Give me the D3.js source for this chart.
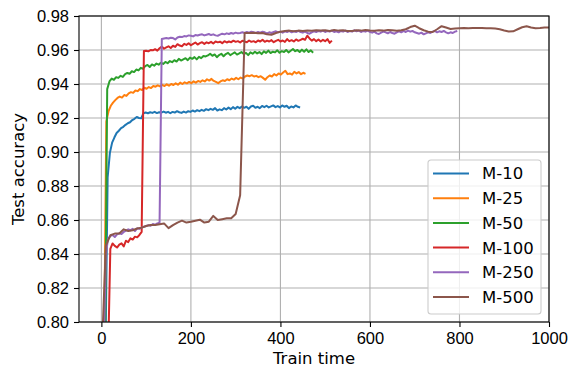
<!DOCTYPE html>
<html>
<head>
<meta charset="utf-8">
<script src="https://cdn.jsdelivr.net/npm/d3@7"></script>
<style>
  body { margin: 0; background: #fff; }
  svg { font-family: "DejaVu Sans", sans-serif; }
  .grid line { stroke: #b0b0b0; stroke-width: 1.1; }
  .axis path, .axis line { stroke: #000; stroke-width: 1.1; }
  .axis text { font-size: 16.5px; fill: #000; }
  .series { fill: none; stroke-width: 2; stroke-linejoin: round; }
</style>
</head>
<body>
<svg width="581" height="380"></svg>
<script>
// series labels and colours
const seriesNames = ["M-10", "M-25", "M-50", "M-100", "M-250", "M-500"];
const seriesColors = ["#1f77b4", "#ff7f0e", "#2ca02c", "#d62728", "#9467bd", "#8c564b"];

// first train time and spacing of the samples of each run
const startTimes = [9, 6, 8, 15, 5, 0];
const timeSteps = [5, 5, 5, 5, 5, 10];

const xTicks = [0, 200, 400, 600, 800, 1000];
const yTicks = [0.80, 0.82, 0.84, 0.86, 0.88, 0.90, 0.92, 0.94, 0.96, 0.98];

// test accuracy
const accM10 = [
  0.780, 0.8850, 0.8995, 0.9055, 0.9085, 0.9112, 0.9125, 0.9140, 0.9148, 0.9160,
  0.9169, 0.9175, 0.9188, 0.9195, 0.9206, 0.9200, 0.9198, 0.9228, 0.9232, 0.9228,
  0.9234, 0.9230, 0.9236, 0.9229, 0.9234, 0.9232, 0.9238, 0.9231, 0.9236, 0.9228,
  0.9236, 0.9232, 0.9240, 0.9234, 0.9230, 0.9238, 0.9232, 0.9240, 0.9236, 0.9244,
  0.9238, 0.9246, 0.9240, 0.9248, 0.9242, 0.9252, 0.9246, 0.9254, 0.9248, 0.9258,
  0.9244, 0.9251, 0.9246, 0.9258, 0.9250, 0.9261, 0.9252, 0.9264, 0.9254, 0.9266,
  0.9258, 0.9268, 0.9260, 0.9266, 0.9254, 0.9268, 0.9272, 0.9260, 0.9266, 0.9258,
  0.9271, 0.9264, 0.9272, 0.9262, 0.9268, 0.9274, 0.9264, 0.9270, 0.9262, 0.9274,
  0.9266, 0.9272, 0.9258, 0.9268, 0.9262, 0.9274, 0.9266, 0.9262
];
const accM25 = [
  0.780, 0.9180, 0.9240, 0.9272, 0.9290, 0.9305, 0.9318, 0.9326, 0.9320, 0.9335,
  0.9330, 0.9345, 0.9352, 0.9348, 0.9362, 0.9358, 0.9370, 0.9365, 0.9378, 0.9372,
  0.9382, 0.9376, 0.9388, 0.9384, 0.9392, 0.9386, 0.9395, 0.9388, 0.9398, 0.9390,
  0.9400, 0.9394, 0.9404, 0.9396, 0.9408, 0.9400, 0.9410, 0.9404, 0.9412, 0.9405,
  0.9416, 0.9408, 0.9418, 0.9412, 0.9422, 0.9415, 0.9428, 0.9420, 0.9430, 0.9418,
  0.9412, 0.9405, 0.9415, 0.9422, 0.9418, 0.9428, 0.9422, 0.9432, 0.9426, 0.9436,
  0.9428, 0.9438, 0.9432, 0.9444, 0.9450, 0.9446, 0.9452, 0.9444, 0.9448, 0.9440,
  0.9446, 0.9436, 0.9425, 0.9440, 0.9450, 0.9444, 0.9458, 0.9450, 0.9462, 0.9455,
  0.9468, 0.9478, 0.9458, 0.9462, 0.9455, 0.9472, 0.9462, 0.9470, 0.9458, 0.9466,
  0.9460
];
const accM50 = [
  0.780, 0.9370, 0.9415, 0.9432, 0.9425, 0.9440, 0.9436, 0.9448, 0.9442, 0.9458,
  0.9465, 0.9460, 0.9475, 0.9470, 0.9485, 0.9480, 0.9495, 0.9490, 0.9505, 0.9512,
  0.9500, 0.9515, 0.9508, 0.9520, 0.9514, 0.9525, 0.9518, 0.9530, 0.9522, 0.9535,
  0.9528, 0.9540, 0.9532, 0.9548, 0.9538, 0.9545, 0.9552, 0.9540, 0.9555, 0.9548,
  0.9558, 0.9545, 0.9560, 0.9552, 0.9565, 0.9562, 0.9568, 0.9578, 0.9566, 0.9574,
  0.9558, 0.9570, 0.9578, 0.9563, 0.9576, 0.9583, 0.9570, 0.9578, 0.9586, 0.9573,
  0.9580, 0.9588, 0.9576, 0.9583, 0.9570, 0.9586, 0.9578, 0.9590, 0.9580, 0.9588,
  0.9576, 0.9592, 0.9583, 0.9596, 0.9582, 0.9590, 0.9586, 0.9598, 0.9584, 0.9593,
  0.9588, 0.9600, 0.9586, 0.9596, 0.9606, 0.9593, 0.9600, 0.9588, 0.9602, 0.9590,
  0.9604, 0.9588, 0.9598, 0.9584
];
const accM100 = [
  0.780, 0.8430, 0.8462, 0.8448, 0.8438, 0.8455, 0.8463, 0.8445, 0.8478, 0.8470,
  0.8492, 0.8485, 0.8502, 0.8498, 0.8512, 0.8530, 0.9594, 0.9596, 0.9592, 0.9600,
  0.9598, 0.9605, 0.9596, 0.9610, 0.9620, 0.9608, 0.9615, 0.9622, 0.9612, 0.9625,
  0.9618, 0.9634, 0.9626, 0.9622, 0.9636, 0.9630, 0.9640, 0.9628, 0.9636, 0.9644,
  0.9632, 0.9640, 0.9646, 0.9636, 0.9645, 0.9640, 0.9648, 0.9638, 0.9650, 0.9645,
  0.9649, 0.9640, 0.9652, 0.9644, 0.9650, 0.9646, 0.9655, 0.9648, 0.9652, 0.9644,
  0.9655, 0.9650, 0.9646, 0.9656, 0.9648, 0.9652, 0.9645, 0.9656, 0.9650, 0.9660,
  0.9648, 0.9655, 0.9650, 0.9658, 0.9646, 0.9654, 0.9660, 0.9650, 0.9656, 0.9648,
  0.9664, 0.9652, 0.9658, 0.9650, 0.9662, 0.9654, 0.9660, 0.9666, 0.9660, 0.9684,
  0.9668, 0.9655, 0.9664, 0.9652, 0.9662, 0.9650, 0.9660, 0.9652, 0.9664, 0.9642,
  0.9655
];
const accM250 = [
  0.780, 0.8400, 0.8490, 0.8505, 0.8512, 0.8500, 0.8515, 0.8522, 0.8518, 0.8530,
  0.8538, 0.8545, 0.8540, 0.8548, 0.8535, 0.8551, 0.8548, 0.8555, 0.8560, 0.8565,
  0.8570, 0.8566, 0.8576, 0.8572, 0.8580, 0.8584, 0.9665, 0.9668, 0.9670, 0.9668,
  0.9672, 0.9670, 0.9662, 0.9674, 0.9678, 0.9676, 0.9682, 0.9680, 0.9686, 0.9684,
  0.9680, 0.9688, 0.9685, 0.9690, 0.9692, 0.9686, 0.9690, 0.9694, 0.9688, 0.9692,
  0.9686, 0.9684, 0.9690, 0.9696, 0.9692, 0.9698, 0.9694, 0.9700, 0.9696, 0.9702,
  0.9698, 0.9700, 0.9704, 0.9700, 0.9706, 0.9702, 0.9708, 0.9704, 0.9700, 0.9706,
  0.9702, 0.9708, 0.9704, 0.9698, 0.9704, 0.9700, 0.9706, 0.9710, 0.9704, 0.9708,
  0.9702, 0.9710, 0.9706, 0.9712, 0.9704, 0.9710, 0.9706, 0.9712, 0.9706, 0.9702,
  0.9708, 0.9700, 0.9696, 0.9704, 0.9710, 0.9706, 0.9712, 0.9708, 0.9714, 0.9706,
  0.9712, 0.9708, 0.9714, 0.9706, 0.9710, 0.9704, 0.9712, 0.9708, 0.9714, 0.9706,
  0.9712, 0.9708, 0.9716, 0.9710, 0.9714, 0.9706, 0.9712, 0.9708, 0.9714, 0.9706,
  0.9702, 0.9708, 0.9698, 0.9694, 0.9702, 0.9708, 0.9704, 0.9698, 0.9706, 0.9700,
  0.9696, 0.9704, 0.9710, 0.9704, 0.9712, 0.9706, 0.9714, 0.9708, 0.9712, 0.9704,
  0.9700, 0.9696, 0.9702, 0.9692, 0.9698, 0.9704, 0.9700, 0.9708, 0.9712, 0.9704,
  0.9710, 0.9706, 0.9712, 0.9704, 0.9698, 0.9704, 0.9700, 0.9708, 0.9712
];
const accM500 = [
  0.775, 0.8450, 0.8510, 0.8520, 0.8520, 0.8545, 0.8535, 0.8540, 0.8550, 0.8555,
  0.8565, 0.8570, 0.8570, 0.8575, 0.8580, 0.8552, 0.8570, 0.8585, 0.8596, 0.8585,
  0.8590, 0.8596, 0.8602, 0.8585, 0.8590, 0.8624, 0.8600, 0.8605, 0.8610, 0.8610,
  0.8635, 0.8745, 0.9700, 0.9700, 0.9702, 0.9698, 0.9700, 0.9692, 0.9690, 0.9700,
  0.9708, 0.9712, 0.9714, 0.9710, 0.9714, 0.9712, 0.9715, 0.9713, 0.9716, 0.9714,
  0.9716, 0.9712, 0.9718, 0.9714, 0.9716, 0.9712, 0.9712, 0.9716, 0.9714, 0.9718,
  0.9715, 0.9713, 0.9716, 0.9714, 0.9718, 0.9716, 0.9713, 0.9716, 0.9722, 0.9735,
  0.9743, 0.9728, 0.9716, 0.9708, 0.9706, 0.9722, 0.9740, 0.9732, 0.9724, 0.9726,
  0.9728, 0.9729, 0.9728, 0.9729, 0.9730, 0.9729, 0.9728, 0.9728, 0.9726, 0.9722,
  0.9715, 0.9709, 0.9710, 0.9722, 0.9734, 0.9740, 0.9732, 0.9728, 0.9730, 0.9733,
  0.9733
];
const seriesValues = [accM10, accM25, accM50, accM100, accM250, accM500];

const svg = d3.select("svg");
const margin = { top: 16, right: 32, bottom: 58, left: 79 };
const width = +svg.attr("width") - margin.left - margin.right;
const height = +svg.attr("height") - margin.top - margin.bottom;
const g = svg.append("g").attr("transform", "translate(" + margin.left + "," + margin.top + ")");

const x = d3.scaleLinear().domain([-50, 1000]).range([0, width]);
const y = d3.scaleLinear().domain([0.80, 0.98]).range([height, 0]);

const runs = seriesNames.map(function(name, i) {
    return {
        name: name,
        color: seriesColors[i],
        points: seriesValues[i].map(function(v, j) {
            return { t: startTimes[i] + j * timeSteps[i], acc: v };
        })
    };
});

// grid
g.append("g").attr("class", "grid")
    .selectAll("line").data(xTicks).enter().append("line")
    .attr("x1", d => x(d)).attr("x2", d => x(d))
    .attr("y1", 0).attr("y2", height);
g.append("g").attr("class", "grid")
    .selectAll("line").data(yTicks).enter().append("line")
    .attr("x1", 0).attr("x2", width)
    .attr("y1", d => y(d)).attr("y2", d => y(d));

svg.append("defs").append("clipPath").attr("id", "plot-area")
    .append("rect").attr("width", width).attr("height", height);

const line = d3.line()
    .x(d => x(d.t))
    .y(d => y(d.acc));

g.append("g").attr("clip-path", "url(#plot-area)")
    .selectAll("path").data(runs).enter().append("path")
    .attr("class", "series")
    .attr("stroke", d => d.color)
    .attr("d", d => line(d.points));

// axes
const xAxis = g.append("g").attr("class", "axis")
    .attr("transform", "translate(0," + height + ")")
    .call(d3.axisBottom(x).tickValues(xTicks).tickFormat(d3.format("d")).tickSize(5).tickPadding(5).tickSizeOuter(0));
const yAxis = g.append("g").attr("class", "axis")
    .call(d3.axisLeft(y).tickValues(yTicks).tickFormat(d3.format(".2f")).tickSize(5).tickPadding(5).tickSizeOuter(0));
xAxis.select(".domain").remove();
yAxis.select(".domain").remove();

g.append("rect")
    .attr("width", width).attr("height", height)
    .attr("fill", "none").attr("stroke", "#000").attr("stroke-width", 1.1);

svg.append("text")
    .attr("x", margin.left + width / 2).attr("y", 364)
    .attr("text-anchor", "middle")
    .style("font-size", "16.5px")
    .text("Train time");

svg.append("text")
    .attr("transform", "translate(24," + (margin.top + height / 2) + ") rotate(-90)")
    .attr("text-anchor", "middle")
    .style("font-size", "16.5px")
    .text("Test accuracy");

// legend, lower right
const legend = g.append("g").attr("transform", "translate(" + (width - 121) + "," + (height - 162) + ")");
legend.append("rect")
    .attr("width", 113).attr("height", 154).attr("rx", 3)
    .attr("fill", "#fff").attr("fill-opacity", 0.8)
    .attr("stroke", "#ccc").attr("stroke-width", 1.1);

const item = legend.selectAll(".item").data(runs).enter().append("g")
    .attr("class", "item")
    .attr("transform", (d, i) => "translate(0," + (13.5 + i * 24.7) + ")");
item.append("line")
    .attr("x1", 5).attr("x2", 41)
    .attr("stroke", d => d.color).attr("stroke-width", 2);
item.append("text")
    .attr("x", 54).attr("dy", "0.36em")
    .style("font-size", "16.5px")
    .text(d => d.name);
</script>
</body>
</html>
